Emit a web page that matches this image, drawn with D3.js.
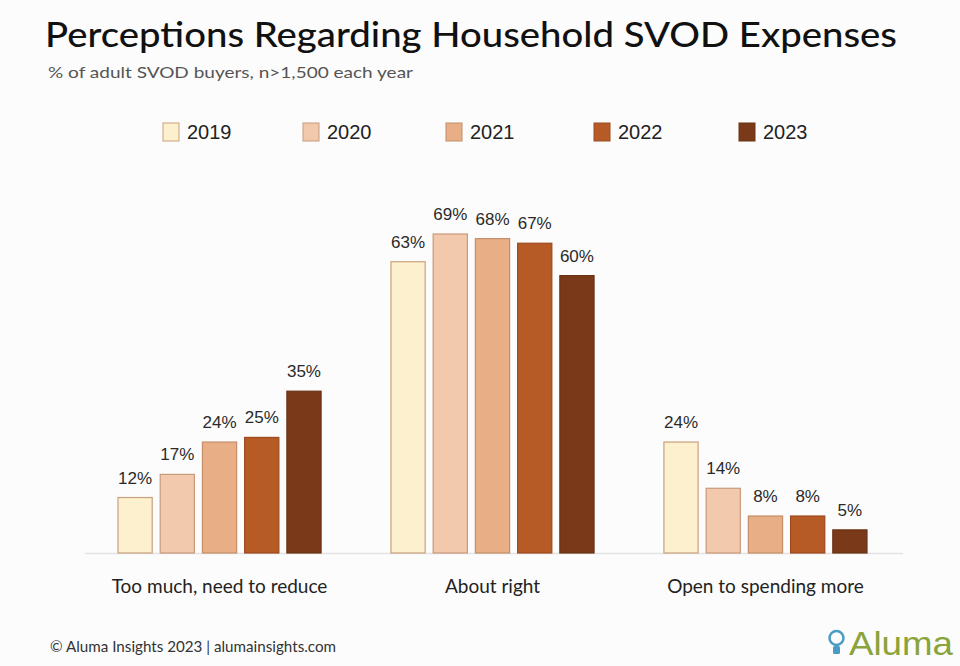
<!DOCTYPE html>
<html><head><meta charset="utf-8">
<script src="https://cdn.jsdelivr.net/npm/d3@7"></script>
<style>body{margin:0;background:#fcfcfc}svg{display:block}</style>
</head><body>
<script>
const categories = ["Too much, need to reduce", "About right", "Open to spending more"];
const years = ["2019", "2020", "2021", "2022", "2023"];
const v2019 = [12, 63, 24];
const v2020 = [17, 69, 14];
const v2021 = [24, 68, 8];
const v2022 = [25, 67, 8];
const v2023 = [35, 60, 5];
const colors = ["#fdf0cf", "#f2c9ac", "#e8ae86", "#b65a26", "#7a3a19"];
const strokes = ["#c9a07c", "#c99a7a", "#c48e68", "#9c4a1e", "#6a3214"];

const series = [v2019, v2020, v2021, v2022, v2023];
const W = 960, H = 666;
const svg = d3.select("body").append("svg").attr("width", W).attr("height", H);
svg.append("rect").attr("width", W).attr("height", H).attr("fill", "#fcfcfc");

const font = "Lato, 'Noto Sans', sans-serif";
const numFont = "'Liberation Sans', Arial, sans-serif";

svg.append("text").attr("x", 45).attr("y", 47).attr("font-family", font)
  .attr("font-size", 35).attr("font-weight", 500).attr("fill", "#111")
  .attr("textLength", 852).attr("lengthAdjust", "spacingAndGlyphs")
  .text("Perceptions Regarding Household SVOD Expenses");
svg.append("text").attr("x", 48).attr("y", 78).attr("font-family", font)
  .attr("font-size", 16).attr("fill", "#555")
  .attr("textLength", 365).attr("lengthAdjust", "spacingAndGlyphs")
  .text("% of adult SVOD buyers, n>1,500 each year");

// legend
const legX = [163, 303, 446, 594, 739];
const leg = svg.append("g");
years.forEach((y, i) => {
  leg.append("rect").attr("x", legX[i]).attr("y", 123).attr("width", 16).attr("height", 18)
    .attr("fill", colors[i]).attr("stroke", strokes[i]).attr("stroke-width", 1);
  leg.append("text").attr("x", legX[i] + 24).attr("y", 139).attr("font-family", numFont)
    .attr("font-size", 20).attr("fill", "#222").text(y);
});

const x0 = d3.scaleBand().domain(categories).range([118, 867]).paddingInner(0.256).paddingOuter(0);
const x1 = d3.scaleBand().domain(years).range([0, x0.bandwidth()]).paddingInner(0.19).paddingOuter(0);
const y = d3.scaleLinear().domain([0, 69]).range([553, 234]);

svg.append("line").attr("x1", 85).attr("x2", 903).attr("y1", 553.5).attr("y2", 553.5)
  .attr("stroke", "#e2e2e2").attr("stroke-width", 1.5);

categories.forEach((c, ci) => {
  const g = svg.append("g").attr("transform", `translate(${x0(c)},0)`);
  years.forEach((yr, i) => {
    const v = series[i][ci];
    g.append("rect").attr("x", x1(yr)).attr("y", y(v)).attr("width", x1.bandwidth())
      .attr("height", y(0) - y(v)).attr("fill", colors[i]).attr("stroke", strokes[i]).attr("stroke-width", 1.2);
    g.append("text").attr("x", x1(yr) + x1.bandwidth() / 2).attr("y", y(v) - 14)
      .attr("text-anchor", "middle").attr("font-family", numFont)
      .attr("font-size", 17).attr("fill", "#2a2a2a").text(v + "%");
  });
  svg.append("text").attr("x", x0(c) + x0.bandwidth() / 2).attr("y", 593)
    .attr("text-anchor", "middle").attr("font-family", font).attr("font-size", 19)
    .attr("fill", "#222").text(c);
});

svg.append("text").attr("x", 50).attr("y", 652).attr("font-family", font)
  .attr("font-size", 15).attr("fill", "#333")
  .attr("textLength", 286).attr("lengthAdjust", "spacingAndGlyphs")
  .text("© Aluma Insights 2023 | alumainsights.com");

// logo
const logo = svg.append("g");
logo.append("circle").attr("cx", 836.5).attr("cy", 638).attr("r", 7).attr("fill", "none")
  .attr("stroke", "#4a9cc4").attr("stroke-width", 2.5);
logo.append("rect").attr("x", 833).attr("y", 646).attr("width", 7).attr("height", 8).attr("rx", 1.5).attr("fill", "#4a9cc4");
logo.append("text").attr("x", 849).attr("y", 655).attr("font-family", numFont).attr("font-size", 33)
  .attr("fill", "#8aa33a").attr("textLength", 104).attr("lengthAdjust", "spacingAndGlyphs").text("Aluma");
</script>
</body></html>
